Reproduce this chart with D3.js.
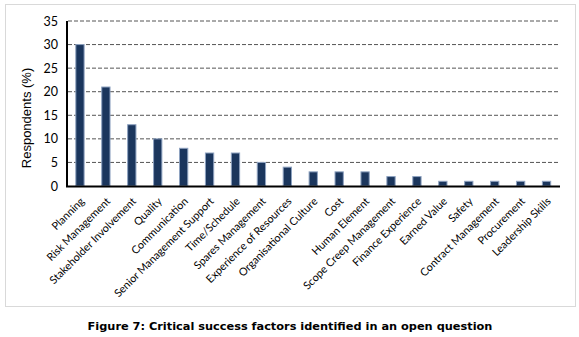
<!DOCTYPE html>
<html><head><meta charset="utf-8">
<script src="https://cdn.jsdelivr.net/npm/d3@7"></script>
<style>body{margin:0;background:#fff}svg{display:block}</style>
</head><body>
<svg id="c" width="579" height="337"></svg>
<script>
const categories = ["Planning","Risk Management","Stakeholder Involvement","Quality","Communication","Senior Management Support","Time/Schedule","Spares Management","Experience of Resources","Organisational Culture","Cost","Human Element","Scope Creep Management","Finance Experience","Earned Value","Safety","Contract Management","Procurement","Leadership Skills"];
const values = [30,21,13,10,8,7,7,5,4,3,3,3,2,2,1,1,1,1,1];
const yTicks = [0,5,10,15,20,25,30,35];
const yTitle = "Respondents (%)";
const caption = "Figure 7: Critical success factors identified in an open question";

const svg = d3.select("#c");
svg.append("rect").attr("x",5.5).attr("y",4.5).attr("width",570).attr("height",302)
  .attr("fill","#fff").attr("stroke","#d9d9d9").attr("stroke-width",1);

const x = d3.scaleBand().domain(categories).range([67,559.5]).paddingInner(0.68).paddingOuter(0.34);
const y = d3.scaleLinear().domain([0,35]).range([186,21]);

// gridlines
svg.append("g").selectAll("line").data(yTicks.filter(d=>d>0)).join("line")
  .attr("x1",68).attr("x2",558).attr("y1",d=>y(d)).attr("y2",d=>y(d))
  .attr("stroke","#555").attr("stroke-width",1).attr("stroke-dasharray","4,2");

// bars
svg.append("g").selectAll("rect").data(values).join("rect")
  .attr("x",(d,i)=>x(categories[i]))
  .attr("width",x.bandwidth())
  .attr("y",d=>y(d))
  .attr("height",d=>y(0)-y(d))
  .attr("fill","#1b365d").attr("stroke","#8ea2c0").attr("stroke-width",1);

// y axis
const yAxis = d3.axisLeft(y).tickValues(yTicks).tickSize(0).tickPadding(9);
const ya = svg.append("g").attr("transform","translate(67,0)").call(yAxis);
ya.select(".domain").remove();
ya.selectAll("text").attr("font-family","Lato, sans-serif").attr("font-size","12.5px").attr("fill","#000");
svg.append("line").attr("x1",67).attr("x2",67).attr("y1",21).attr("y2",187).attr("stroke","#000").attr("stroke-width",2);

// x axis
const xAxis = d3.axisBottom(x).tickSize(0).tickFormat(d=>d);
const xa = svg.append("g").attr("transform","translate(0,186)").call(xAxis);
xa.select(".domain").remove();
xa.selectAll("text")
  .attr("font-family","Lato, sans-serif").attr("font-size","10.8px").attr("fill","#000")
  .attr("text-anchor","end").attr("dy",null).attr("y",null)
  .attr("transform","translate(5,16) rotate(-45)");
svg.append("line").attr("x1",66).attr("x2",560).attr("y1",186.5).attr("y2",186.5).attr("stroke","#000").attr("stroke-width",2);

// y title
svg.append("text").attr("transform","translate(31,118) rotate(-90)")
  .attr("text-anchor","middle").attr("font-family","Liberation Sans, Arial, sans-serif")
  .attr("font-size","13px").text(yTitle);

// caption
const cap = svg.append("text").attr("x",290).attr("y",330).attr("text-anchor","middle")
  .attr("font-family","DejaVu Sans, sans-serif").attr("font-weight","bold").attr("font-size","11px").text(caption);
const w = cap.node().getComputedTextLength();
cap.attr("font-size", (11*405/w).toFixed(2)+"px");
</script>
</body></html>
